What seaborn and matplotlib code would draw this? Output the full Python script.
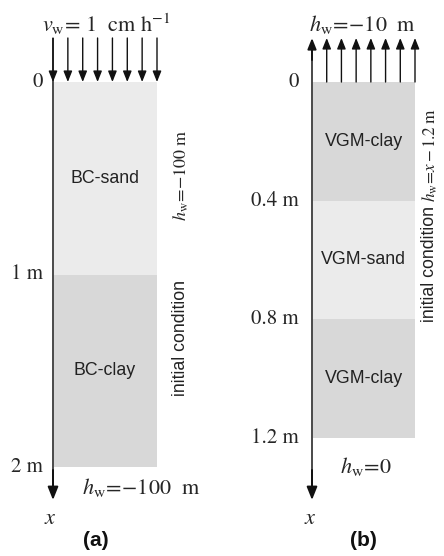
import matplotlib
matplotlib.use("Agg")
import matplotlib.pyplot as plt
import seaborn as sns

# ---------------- data ----------------
# panel (a): layer boundaries (m) and materials
a_bounds = [0.0, 1.0, 2.0]
a_layers = ["BC-sand", "BC-clay"]
a_ticklabels = ["0", "1 m", "2 m"]
# panel (b)
b_bounds = [0.0, 0.4, 0.8, 1.2]
b_layers = ["VGM-clay", "VGM-sand", "VGM-clay"]
b_ticklabels = ["0", "0.4 m", "0.8 m", "1.2 m"]

a_top_bc = r"$v_{\rm w}\!=\,1\ \ \mathrm{cm\ h}^{-1}$"
a_bottom_bc = r"$h_{\rm w}\!=\!{-}100\ \ \mathrm{m}$"
a_initial = r"$h_{\rm w}\!=\!{-}100\;\mathrm{m}$"
b_top_bc = r"$h_{\rm w}\!=\!{-}10\ \ \mathrm{m}$"
b_bottom_bc = r"$h_{\rm w}\!=\!0$"
b_initial = r"$h_{\rm w}\!=\!x\,{-}\,1.2\;\mathrm{m}$"
n_flux_arrows = 8

colors = {"sand": "#ebebeb", "clay": "#d8d8d8"}

# ---------------- style ----------------
sns.set_theme(style="white")
plt.rcParams["mathtext.fontset"] = "stix"
plt.rcParams["font.family"] = ["STIXGeneral", "DejaVu Serif"]

W, H = 444, 556
fig = plt.figure(figsize=(W / 100, H / 100), dpi=100)
fig.patch.set_facecolor("white")

SERIF = 16
TICK = 15
ROT_A = 13
ROT_B = 12.3
SANS = 12.8
LINE_C = "#4a4a4a"
HEAD_C = "#111111"


def make_panel(rect, xlim, bounds, y0_px, y1_px):
    ax = fig.add_axes(rect)
    scale = (y1_px - y0_px) / (bounds[-1] - bounds[0])
    top = -y0_px / scale
    bot = (H - y0_px) / scale
    ax.set_xlim(*xlim)
    ax.set_ylim(bot, top)
    ax.set_axis_off()
    ax.patch.set_alpha(0)
    return ax, (lambda py: (py - y0_px) / scale)


def arrow(ax, x, y_from, y_to, lw=1.0, color=LINE_C, hl=0.65, hw=0.26, ms=10):
    ax.annotate("", xy=(x, y_to), xytext=(x, y_from),
                arrowprops=dict(arrowstyle=f"-|>,head_length={hl},head_width={hw}",
                                lw=lw, color=color, fc=HEAD_C, ec=HEAD_C,
                                shrinkA=0, shrinkB=0, mutation_scale=ms))


def draw_layers(ax, x_left, width, bounds, names):
    tops = bounds[:-1]
    thick = [b - t for t, b in zip(bounds[:-1], bounds[1:])]
    cols = [colors["sand"] if "sand" in n else colors["clay"] for n in names]
    ax.bar([x_left] * len(names), thick, bottom=tops, width=width,
           align="edge", color=cols, linewidth=0)
    for t, d, n in zip(tops, thick, names):
        ax.text(x_left + width / 2, t + d / 2, n, ha="center", va="center",
                fontsize=SANS, family="Liberation Sans", color="#222222")


def draw_ticks(ax, x_right, bounds, labels):
    for b, lab in zip(bounds, labels):
        ax.text(x_right, b, lab, ha="right", va="center", fontsize=TICK)


# ---------------- panel (a) ----------------
axA, pa = make_panel([0, 0, 0.5, 1], (0, 222), a_bounds, 82, 467)
xa0, xa1 = 53, 157
draw_layers(axA, xa0, xa1 - xa0, a_bounds, a_layers)
axA.plot([xa0, xa0], [pa(38), pa(492)], color=LINE_C, lw=1.4, solid_capstyle="butt")
arrow(axA, xa0, pa(470), pa(500), lw=1.4, ms=12)
step = (xa1 - xa0) / (n_flux_arrows - 1)
for i in range(n_flux_arrows):
    arrow(axA, xa0 + i * step, pa(38), pa(82), lw=1.0)
draw_ticks(axA, 43, a_bounds, a_ticklabels)
axA.text(106, pa(24), a_top_bc, ha="center", va="center", fontsize=SERIF)
axA.text(141, pa(488), a_bottom_bc, ha="center", va="center", fontsize=SERIF)
axA.text(181, pa(176), a_initial, ha="center", va="center", rotation=90,
         rotation_mode="anchor", fontsize=ROT_A)
axA.text(180, pa(338), "initial condition", ha="center", va="center", rotation=90,
         rotation_mode="anchor", fontsize=SANS, family="Liberation Sans", color="#222222")
axA.text(50, pa(519), r"$x$", ha="center", va="center", fontsize=SERIF)
axA.text(96, pa(541), "(a)", ha="center", va="center", fontsize=15,
         family="Liberation Sans", weight="bold", color="#111111")

# ---------------- panel (b) ----------------
axB, pb = make_panel([0.5, 0, 0.5, 1], (222, 444), b_bounds, 82, 438)
xb0, xb1 = 312, 415
draw_layers(axB, xb0, xb1 - xb0, b_bounds, b_layers)
axB.plot([xb0, xb0], [pb(60), pb(492)], color=LINE_C, lw=1.4, solid_capstyle="butt")
arrow(axB, xb0, pb(470), pb(500), lw=1.4, ms=12)
arrow(axB, xb0, pb(60), pb(38), lw=1.4, ms=10)
step = (xb1 - xb0) / (n_flux_arrows - 1)
for i in range(1, n_flux_arrows):
    arrow(axB, xb0 + i * step, pb(82), pb(38), lw=1.0)
draw_ticks(axB, 299, b_bounds, b_ticklabels)
axB.text(363, pb(24), b_top_bc, ha="center", va="center", fontsize=SERIF)
axB.text(366, pb(467), b_bottom_bc, ha="center", va="center", fontsize=SERIF)
axB.text(430, pb(155), b_initial, ha="center", va="center", rotation=90,
         rotation_mode="anchor", fontsize=ROT_B)
axB.text(429, pb(264), "initial condition", ha="center", va="center", rotation=90,
         rotation_mode="anchor", fontsize=SANS, family="Liberation Sans", color="#222222")
axB.text(310, pb(519), r"$x$", ha="center", va="center", fontsize=SERIF)
axB.text(363, pb(541), "(b)", ha="center", va="center", fontsize=15,
         family="Liberation Sans", weight="bold", color="#111111")

fig.savefig("out.png", dpi=100, facecolor="white")
